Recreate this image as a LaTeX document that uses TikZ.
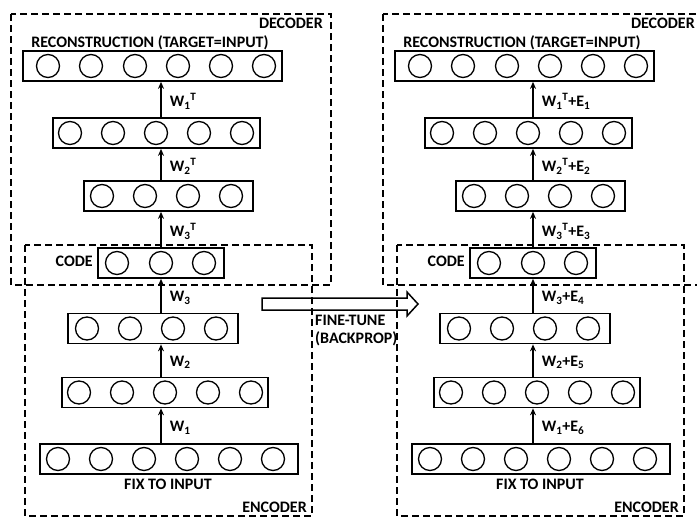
\documentclass[tikz,border=0pt]{standalone}
\usepackage{fontspec}
\setmainfont{Carlito}
\usetikzlibrary{arrows.meta,calc}
\tikzset{
  layer/.style={draw, line width=1.7pt, inner sep=0pt, minimum height=30pt},
  neuron/.style={draw, circle, line width=1.3pt, minimum size=23pt, inner sep=0pt},
  lbl/.style={font=\fontsize{16}{18}\selectfont\bfseries, inner sep=0pt},
  arr/.style={-{Stealth[length=7pt,width=6pt]}, line width=1.5pt},
  region/.style={line width=1.4pt, dash pattern=on 7pt off 4pt},
  wlbl/.style={lbl, midway, anchor=west, xshift=8pt, yshift=-2pt},
}
\newcommand\AEpart[8]{%
  \begin{scope}[xshift=#2]
    % dashed regions
    \draw[region] (11,14) rectangle (331,285);
    \draw[region] (25,245) rectangle (312,516);
    % layers
    \node[layer, minimum width=259pt] (#1r) at (152.5,66) {};
    \node[layer, minimum width=207pt] (#1l5) at (156.5,133) {};
    \node[layer, minimum width=169pt] (#1l4) at (168.5,196) {};
    \node[layer, minimum width=126pt] (#1lc) at (161,263) {};
    \node[layer, minimum width=170pt] (#1l3) at (153,328.5) {};
    \node[layer, minimum width=206pt] (#1l2) at (165,392.5) {};
    \node[layer, minimum width=258pt] (#1l1) at (169,459) {};
    % neurons
    \foreach \x [count=\i] in {48,91,135,178,221,264} \node[neuron] (#1rn\i) at (\x,66) {};
    \foreach \x [count=\i] in {70,113,156,199,242} \node[neuron] (#1fn\i) at (\x,133) {};
    \foreach \x [count=\i] in {102,145,188,231} \node[neuron] (#1dn\i) at (\x,196) {};
    \foreach \x [count=\i] in {117,161,204} \node[neuron] (#1cn\i) at (\x,263) {};
    \foreach \x [count=\i] in {87,130,173,216} \node[neuron] (#1tn\i) at (\x,328.5) {};
    \foreach \x [count=\i] in {79,122,165,208,251} \node[neuron] (#1sn\i) at (\x,392.5) {};
    \foreach \x [count=\i] in {58,101,144,187,230,273} \node[neuron] (#1in\i) at (\x,459) {};
    % connectors
    \coordinate (#1ax) at (161,0);
    \draw[arr] (#1l5.north -| #1ax) -- (#1r.south -| #1ax) node[wlbl] {#3};
    \draw[arr] (#1l4.north -| #1ax) -- (#1l5.south -| #1ax) node[wlbl] {#4};
    \draw[arr] (#1lc.north -| #1ax) -- (#1l4.south -| #1ax) node[wlbl] {#5};
    \draw[arr] (#1l3.north -| #1ax) -- (#1lc.south -| #1ax) node[wlbl] {#6};
    \draw[arr] (#1l2.north -| #1ax) -- (#1l3.south -| #1ax) node[wlbl] {#7};
    \draw[arr] (#1l1.north -| #1ax) -- (#1l2.south -| #1ax) node[wlbl] {#8};
    % texts
    \node[lbl, anchor=east] (#1dec) at (323,23) {DECODER};
    \node[lbl] (#1rec) at (150,43) {RECONSTRUCTION (TARGET=INPUT)};
    \node[lbl, anchor=east] (#1code) at (93,261) {CODE};
    \node[lbl] (#1fix) at (168,484) {FIX TO INPUT};
    \node[lbl, anchor=east] (#1enc) at (307,507) {ENCODER};
  \end{scope}}
\begin{document}
\begin{tikzpicture}[x=1pt, y=-1pt]
  \useasboundingbox (0,0) rectangle (697,517);
  \AEpart{L}{0pt}
    {W\textsubscript{1}\textsuperscript{T}}
    {W\textsubscript{2}\textsuperscript{T}}
    {W\textsubscript{3}\textsuperscript{T}}
    {W\textsubscript{3}}
    {W\textsubscript{2}}
    {W\textsubscript{1}}
  \AEpart{R}{372pt}
    {W\textsubscript{1}\textsuperscript{T}+E\textsubscript{1}}
    {W\textsubscript{2}\textsuperscript{T}+E\textsubscript{2}}
    {W\textsubscript{3}\textsuperscript{T}+E\textsubscript{3}}
    {W\textsubscript{3}+E\textsubscript{4}}
    {W\textsubscript{2}+E\textsubscript{5}}
    {W\textsubscript{1}+E\textsubscript{6}}
  % fine-tune block arrow
  \draw[line width=1.5pt, line join=miter]
    (262,298) -- (407,298) -- (407,292) -- (418,304) -- (407,316)
    -- (407,310) -- (262,310) -- cycle;
  \node[lbl, anchor=west, align=left] (ft) at (315,331) {FINE-TUNE\\(BACKPROP)};
\end{tikzpicture}
\end{document}
